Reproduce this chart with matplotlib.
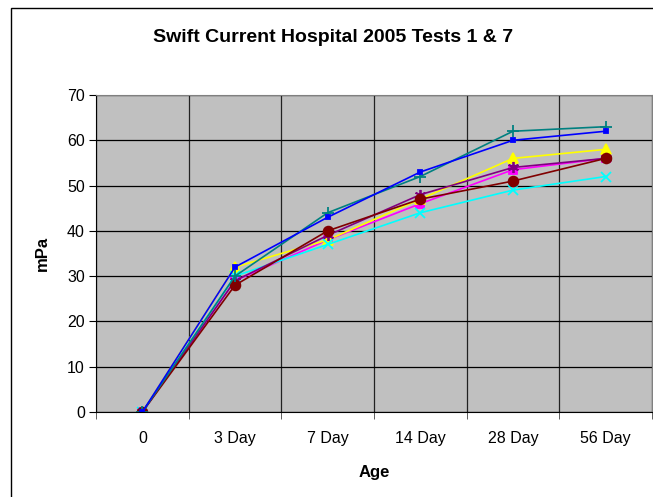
import matplotlib.pyplot as plt
from matplotlib.patches import Rectangle

plt.rcParams['font.family'] = ['Liberation Sans', 'DejaVu Sans']

# Data
ages = ['0', '3 Day', '7 Day', '14 Day', '28 Day', '56 Day']
magenta = [0, 29, 38, 46, 53.5, 56]
yellow = [0, 32, 38, 47, 56, 58]
cyan = [0, 30, 37, 44, 49, 52]
purple = [0, 29, 39, 48, 54, 56]
maroon = [0, 28, 40, 47, 51, 56]
teal = [0, 30, 44, 52, 62, 63]
blue = [0, 32, 43, 53, 60, 62]

series = [
    (magenta, '#FF00FF', 's', 6),
    (yellow, '#FFFF00', '^', 7),
    (cyan, '#00FFFF', 'x', 7),
    (purple, '#800080', (6, 2, 0), 8),
    (maroon, '#800000', 'o', 7),
    (teal, '#008080', '+', 8),
    (blue, '#0000FF', 's', 3.5),
]

fig = plt.figure(figsize=(6.53, 4.97), dpi=100)
fig.patches.append(Rectangle((11 / 653, -0.5), 2, 1.5 - 8 / 497,
                             transform=fig.transFigure, fill=False,
                             edgecolor='black', linewidth=1))

ax = fig.add_axes([96 / 653, 1 - 412 / 497, 556 / 653, 317 / 497])
ax.set_facecolor('#C0C0C0')

x = list(range(len(ages)))
for vals, col, mk, ms in series:
    ax.plot(x, vals, color=col, marker=mk, markersize=ms, linewidth=1.2,
            markeredgewidth=1.3, markeredgecolor=col, markerfacecolor=col)

ax.set_xlim(-0.5, len(ages) - 0.5)
ax.set_ylim(0, 70)
ax.set_yticks(range(0, 71, 10))
ax.set_xticks(x)
ax.set_xticklabels(ages)
ax.set_xticks([i + 0.5 for i in range(-1, len(ages))], minor=True)
ax.tick_params(axis='x', which='major', length=0, pad=14, labelsize=11.5)
ax.tick_params(axis='x', which='minor', length=5, direction='out', color='#444444')
ax.tick_params(axis='y', length=5, direction='out', labelsize=11.5, pad=3)

ax.grid(True, axis='y', color='black', linewidth=0.9)
ax.grid(True, axis='x', which='minor', color='#222222', linewidth=0.9)
ax.set_axisbelow(True)

ax.spines['top'].set_color('#808080')
ax.spines['right'].set_color('#808080')
ax.spines['left'].set_color('black')
ax.spines['bottom'].set_color('black')

fig.text(333 / 653, 1 - 37 / 497, 'Swift Current Hospital 2005 Tests 1 & 7',
         fontsize=14, fontweight='bold', ha='center', va='center')
ax.set_xlabel('Age', fontsize=12, fontweight='bold', labelpad=13)
ax.set_ylabel('mPa', fontsize=12, fontweight='bold', labelpad=12)

fig.savefig('out.png', dpi=100)
